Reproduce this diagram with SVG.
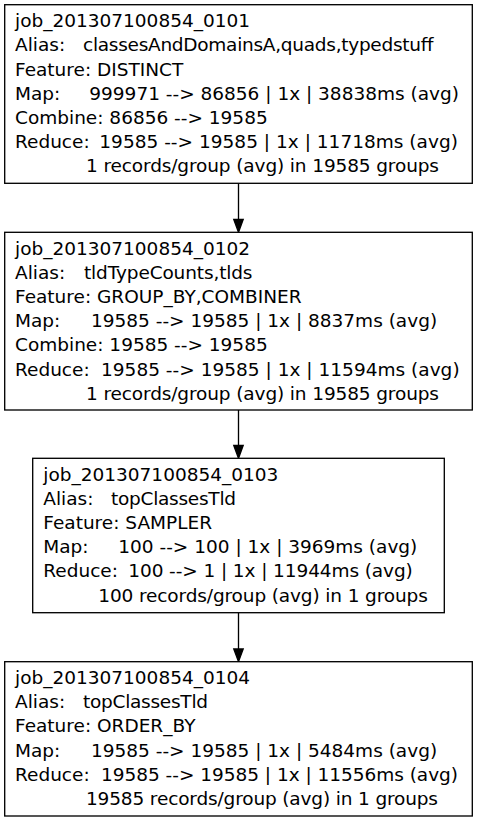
<svg xmlns="http://www.w3.org/2000/svg" width="477" height="821" viewBox="0 0 477 821">
<style>
.box{fill:#fff;stroke:#000;stroke-width:1.33}
text{font-family:"DejaVu Sans",sans-serif;font-size:18.5px;fill:#000}
.edge{stroke:#000;stroke-width:1.33;fill:none}
.head{fill:#000;stroke:#000;stroke-width:1.33}
</style>
<rect x="0" y="0" width="477" height="821" fill="#fff"/>
<g id="edges">
<path class="edge" d="M238.5 183.3V219.5"/><polygon class="head" points="233.8,219.5 238.5,232.3 243.2,219.5"/>
<path class="edge" d="M238.5 410V445.5"/><polygon class="head" points="233.8,445.5 238.5,458.3 243.2,445.5"/>
<path class="edge" d="M238.5 612.7V649"/><polygon class="head" points="233.8,649 238.5,661.7 243.2,649"/>
</g>
<g id="job_0101">
<rect class="box" x="4.7" y="4.7" width="467.6" height="178.6"/>
<text x="15" y="27.2">job_201307100854_0101</text>
<text y="51.4"><tspan x="15">Alias:</tspan><tspan x="83" textLength="350.5" lengthAdjust="spacing">classesAndDomainsA,quads,typedstuff</tspan></text>
<text x="15" y="75.6">Feature: DISTINCT</text>
<text y="99.8"><tspan x="15">Map:</tspan><tspan x="89.3">999971 --&gt; 86856 | 1x | 38838ms (avg)</tspan></text>
<text x="15" y="124">Combine: 86856 --&gt; 19585</text>
<text y="148.2"><tspan x="15">Reduce:</tspan><tspan x="99.3" textLength="358.6" lengthAdjust="spacing">19585 --&gt; 19585 | 1x | 11718ms (avg)</tspan></text>
<text x="86" y="172.4" textLength="353" lengthAdjust="spacing">1 records/group (avg) in 19585 groups</text>
</g>
<g id="job_0102">
<rect class="box" x="4.7" y="232.3" width="467.6" height="177.7"/>
<text x="15" y="254.5">job_201307100854_0102</text>
<text y="278.7"><tspan x="15">Alias:</tspan><tspan x="84" textLength="168.5" lengthAdjust="spacing">tldTypeCounts,tlds</tspan></text>
<text x="15" y="302.9">Feature: GROUP_BY,COMBINER</text>
<text y="327.1"><tspan x="15">Map:</tspan><tspan x="91">19585 --&gt; 19585 | 1x | 8837ms (avg)</tspan></text>
<text x="15" y="351.3">Combine: 19585 --&gt; 19585</text>
<text y="375.5"><tspan x="15">Reduce:</tspan><tspan x="101" textLength="358.6" lengthAdjust="spacing">19585 --&gt; 19585 | 1x | 11594ms (avg)</tspan></text>
<text x="86" y="399.7" textLength="353" lengthAdjust="spacing">1 records/group (avg) in 19585 groups</text>
</g>
<g id="job_0103">
<rect class="box" x="32.7" y="458.3" width="411.6" height="154.4"/>
<text x="43.3" y="480.6">job_201307100854_0103</text>
<text y="504.8"><tspan x="43.3">Alias:</tspan><tspan x="111" textLength="125" lengthAdjust="spacing">topClassesTld</tspan></text>
<text x="43.3" y="529">Feature: SAMPLER</text>
<text y="553.2"><tspan x="43.3">Map:</tspan><tspan x="118.3">100 --&gt; 100 | 1x | 3969ms (avg)</tspan></text>
<text y="577.4"><tspan x="43.3">Reduce:</tspan><tspan x="128.3" textLength="284.5" lengthAdjust="spacing">100 --&gt; 1 | 1x | 11944ms (avg)</tspan></text>
<text x="98.3" y="601.6" textLength="329.5" lengthAdjust="spacing">100 records/group (avg) in 1 groups</text>
</g>
<g id="job_0104">
<rect class="box" x="4.7" y="661.7" width="467.6" height="154.3"/>
<text x="15" y="684">job_201307100854_0104</text>
<text y="708.2"><tspan x="15">Alias:</tspan><tspan x="83" textLength="125" lengthAdjust="spacing">topClassesTld</tspan></text>
<text x="15" y="732.4">Feature: ORDER_BY</text>
<text y="756.6"><tspan x="15">Map:</tspan><tspan x="91">19585 --&gt; 19585 | 1x | 5484ms (avg)</tspan></text>
<text y="780.8"><tspan x="15">Reduce:</tspan><tspan x="101" textLength="357" lengthAdjust="spacing">19585 --&gt; 19585 | 1x | 11556ms (avg)</tspan></text>
<text x="86" y="805" textLength="352" lengthAdjust="spacing">19585 records/group (avg) in 1 groups</text>
</g>
</svg>
